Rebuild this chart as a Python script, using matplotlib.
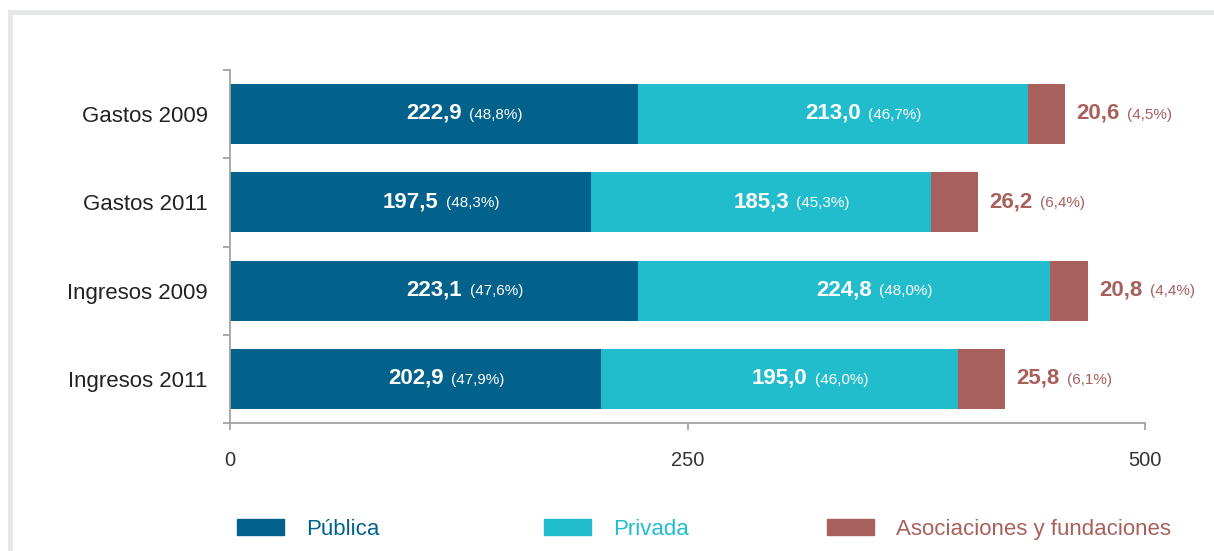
import matplotlib.pyplot as plt
from matplotlib.patches import Rectangle, Patch
from matplotlib.ticker import FixedLocator

plt.rcParams['font.family'] = ['Liberation Sans', 'DejaVu Sans']

categories = ['Gastos 2009', 'Gastos 2011', 'Ingresos 2009', 'Ingresos 2011']
publica = [222.9, 197.5, 223.1, 202.9]
privada = [213.0, 185.3, 224.8, 195.0]
asociaciones = [20.6, 26.2, 20.8, 25.8]
pct_publica = ['48,8', '48,3', '47,6', '47,9']
pct_privada = ['46,7', '45,3', '48,0', '46,0']
pct_asociaciones = ['4,5', '6,4', '4,4', '6,1']
series_names = ['Pública', 'Privada', 'Asociaciones y fundaciones']

C_PUB = '#02628c'
C_PRIV = '#22bdcd'
C_ASOC = '#a8605d'
AXIS_GRAY = '#a3a3a3'


def fmt(v):
    return f'{v:.1f}'.replace('.', ',')


fig = plt.figure(figsize=(12.14, 5.51), dpi=100)
ax = fig.add_axes([230 / 1214, 1 - 423 / 551, 915 / 1214, 353 / 551])

y = list(range(len(categories)))
h = 0.68
ax.barh(y, publica, height=h, color=C_PUB)
ax.barh(y, privada, height=h, left=publica, color=C_PRIV)
left3 = [a + b for a, b in zip(publica, privada)]
ax.barh(y, asociaciones, height=h, left=left3, color=C_ASOC)

ax.set_xlim(0, 500)
ax.set_ylim(len(categories) - 0.5, -0.5)


# value labels: bold number, then the share in brackets just after it
def label(x, yi, val, pct, color, ha, dx):
    t = ax.annotate(fmt(val), xy=(x, yi), xytext=(dx, -3.5), textcoords='offset points',
                    ha=ha, va='baseline', fontsize=16, fontweight='bold', color=color)
    ax.annotate(f'({pct}%)', xy=(1, yi), xycoords=(t, 'data'), xytext=(5.5, -3.5),
                textcoords='offset points', ha='left', va='baseline', fontsize=11, color=color)


for i in y:
    label(publica[i] / 2, i, publica[i], pct_publica[i], 'white', 'center', 0)
    label(publica[i] + privada[i] / 2, i, privada[i], pct_privada[i], 'white', 'center', 0)
    label(left3[i] + asociaciones[i], i, asociaciones[i], pct_asociaciones[i], C_ASOC, 'left', 8)

# axes styling
for s in ['top', 'right']:
    ax.spines[s].set_visible(False)
for s in ['left', 'bottom']:
    ax.spines[s].set_color(AXIS_GRAY)
    ax.spines[s].set_linewidth(1.3)

ax.set_yticks(y)
ax.set_yticklabels(categories)
ax.yaxis.set_minor_locator(FixedLocator([i - 0.5 for i in range(len(categories) + 1)]))
ax.tick_params(axis='y', which='major', length=0, pad=16, labelsize=16, labelcolor='#222222')
ax.tick_params(axis='y', which='minor', length=5, width=1.3, color=AXIS_GRAY)
ax.set_xticks([0, 250, 500])
ax.tick_params(axis='x', length=5, width=1.3, color=AXIS_GRAY, pad=15,
               labelsize=14.5, labelcolor='#333333')

# legend: one entry per block, placed like the original
legend_x = [237, 544, 827]
for name, c, lx in zip(series_names, [C_PUB, C_PRIV, C_ASOC], legend_x):
    leg = fig.legend([Patch(color=c)], [name], loc='lower left',
                     bbox_to_anchor=(lx / 1214, 1 - 540 / 551), frameon=False,
                     fontsize=16, handlelength=2.1, handleheight=0.73,
                     handletextpad=1.0, borderpad=0, borderaxespad=0)
    leg.get_texts()[0].set_color(c)

# light gray frame on top and left
fig.patches.append(Rectangle((9.5 / 1214, -0.2), 1.5, 1.2 - 11.7 / 551,
                             transform=fig.transFigure, fill=False,
                             edgecolor='#e6e7e8', linewidth=3.5, zorder=0))

fig.savefig('out.png', dpi=100)
